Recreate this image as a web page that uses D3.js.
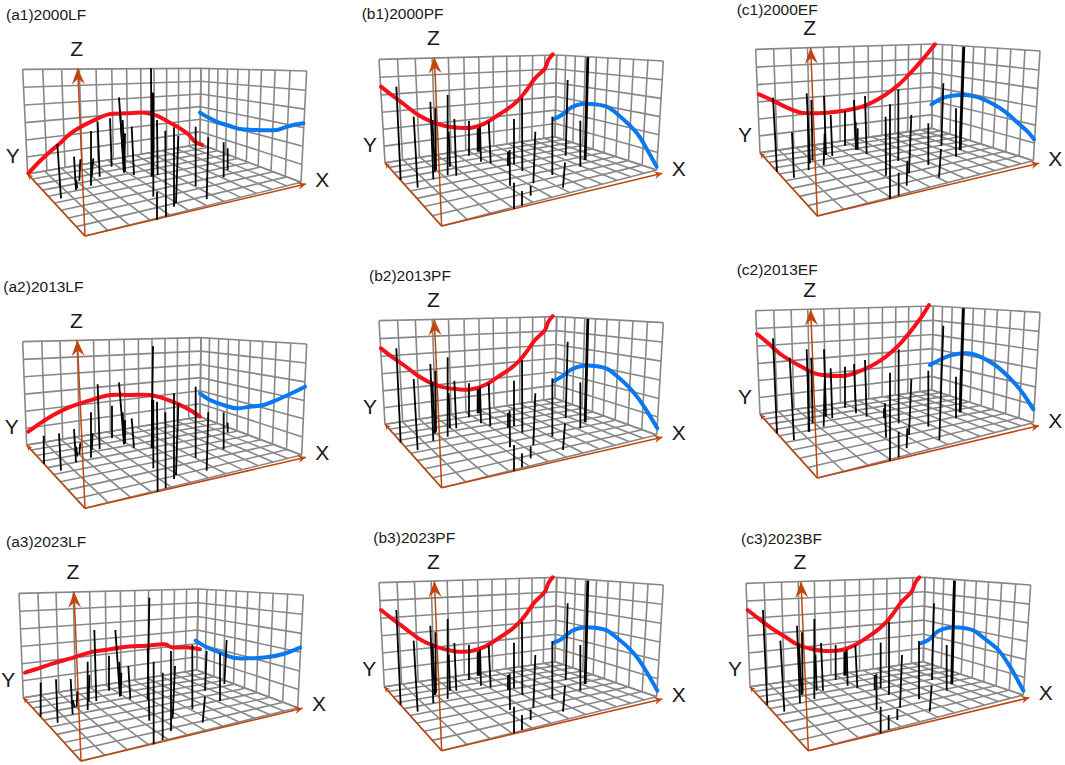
<!DOCTYPE html>
<html>
<head>
<meta charset="utf-8">
<script src="https://cdn.jsdelivr.net/npm/d3@7"></script>
<style>
  html, body { margin: 0; padding: 0; background: #fff; }
  svg { display: block; }
  text { font-family: "Liberation Sans", sans-serif; fill: #1a1a1a; }
</style>
</head>
<body>
<div id="chart"></div>
<script>
const titles = [
  "(a1)2000LF", "(b1)2000PF", "(c1)2000EF",
  "(a2)2013LF", "(b2)2013PF", "(c2)2013EF",
  "(a3)2023LF", "(b3)2023PF", "(c3)2023BF",
];

// stations: [x top, z top, x foot, z foot]
const sticksA1 = [[172,432,183,595],[222,470,228,570],[228,540,232,565],[241,478,238,543],[273,393,273,557],[280,475,275,530],[293,365,299,530],[330,355,335,500],[357,292,372,517],[360,330,372,517],[368,360,375,515],[375,400,373,517],[395,380,402,525],[453,205,455,530],[460,278,460,590],[457,278,457,530],[471,360,473,525],[471,575,471,660],[496,392,498,650],[522,382,522,620],[535,408,528,610],[587,380,587,558],[625,412,620,597],[671,427,671,532],[683,445,683,510]];
const sticksB1 = [[124,260,137,540],[176,350,188,563],[226,305,235,538],[232,360,240,515],[241,325,243,510],[278,285,278,525],[281,395,285,500],[298,357,304,527],[342,363,342,467],[368,385,368,455],[372,385,372,455],[375,377,378,485],[401,363,407,490],[459,455,459,498],[464,450,465,557],[477,357,477,493],[501,293,502,513],[541,395,535,550],[477,548,477,627],[501,573,501,617],[527,557,527,587],[592,350,592,525],[638,240,632,467],[630,487,624,563],[676,362,676,500],[697,172,689,480],[700,172,692,480]];
const sticksC1 = [[174,293,186,515],[231,397,237,533],[275,280,285,490],[279,365,281,510],[289,300,293,480],[327,288,333,465],[329,400,326,495],[347,345,352,468],[390,333,390,437],[417,300,423,450],[422,365,423,440],[428,385,428,450],[450,288,455,463],[512,350,513,527],[525,313,525,597],[550,268,550,483],[551,518,551,587],[589,345,582,520],[577,482,575,557],[640,370,640,495],[685,250,679,437],[678,447,672,533],[723,325,723,470],[748,140,737,450],[745,140,734,450]];
const sticksA2 = [[131,527,132,612],[177,520,183,632],[222,507,228,607],[228,560,232,590],[241,548,238,583],[273,457,273,593],[278,520,275,570],[293,373,299,568],[336,437,336,535],[357,367,372,553],[368,457,373,552],[375,480,375,550],[395,475,402,563],[459,258,455,565],[460,420,460,625],[456,420,456,565],[471,425,473,695],[496,457,497,685],[522,400,522,657],[535,430,528,645],[587,380,587,593],[625,457,620,632],[671,457,671,568],[683,488,683,517]];
const sticksB2 = [[124,265,137,548],[176,357,188,570],[226,312,235,543],[232,365,240,520],[241,332,243,515],[278,292,278,530],[281,400,285,505],[298,362,304,505],[342,370,342,472],[368,388,368,460],[372,388,372,460],[375,382,378,490],[401,370,406,498],[459,458,459,503],[464,452,465,562],[477,362,477,498],[501,300,502,518],[541,400,535,555],[477,555,477,633],[501,580,501,622],[527,560,527,595],[592,355,592,530],[638,245,632,475],[630,490,624,570],[676,367,676,505],[697,177,689,487],[700,177,692,487]];
const sticksC2 = [[174,235,186,520],[224,293,237,540],[275,268,283,515],[279,330,281,515],[289,293,293,490],[327,268,333,470],[329,360,326,500],[347,325,352,475],[390,320,390,443],[417,312,423,460],[450,300,455,470],[510,430,513,533],[507,445,507,475],[525,338,525,603],[551,268,551,490],[551,515,551,592],[589,358,582,525],[577,505,575,565],[640,332,640,500],[685,197,673,540],[723,350,723,475],[747,145,737,457],[744,145,734,457]];
const sticksA3 = [[122,503,122,605],[168,493,173,623],[212,492,218,598],[218,555,224,578],[232,530,230,575],[263,440,263,585],[268,480,266,560],[283,345,289,558],[327,422,327,527],[346,345,360,545],[358,440,362,543],[364,473,362,540],[385,453,391,553],[448,248,443,555],[443,400,448,617],[461,440,461,688],[488,473,488,675],[513,408,513,648],[525,453,518,610],[577,390,577,583],[620,408,615,527],[615,545,608,623],[660,415,660,558],[680,375,673,507]];
const sticksB3 = [[124,285,137,570],[176,377,188,590],[226,332,235,565],[232,385,240,540],[241,352,243,535],[278,312,278,552],[281,420,285,527],[298,384,304,527],[342,390,342,495],[368,410,368,482],[372,410,372,482],[375,403,378,512],[401,390,407,518],[459,480,459,525],[464,476,465,585],[477,383,477,520],[501,320,502,540],[541,420,535,578],[477,575,477,655],[501,600,501,645],[527,583,527,615],[592,378,592,553],[638,265,632,495],[630,512,624,590],[676,390,676,527],[697,197,689,507],[700,197,692,507]];
const sticksC3 = [[144,285,157,570],[196,377,208,590],[246,332,255,565],[251,385,260,540],[261,352,263,535],[298,312,298,552],[301,420,305,527],[318,384,324,527],[362,390,362,495],[388,410,388,482],[392,410,392,482],[395,403,398,512],[421,390,427,520],[479,480,479,525],[484,476,485,585],[497,383,497,520],[522,320,522,540],[561,420,555,578],[497,575,497,655],[521,600,521,645],[547,583,547,615],[612,378,612,553],[657,265,651,495],[650,512,644,590],[695,390,695,527],[717,197,709,507],[720,197,712,507]];

// trend curves on the two back walls
const redA1 = [[85,520],[120,483],[150,455],[180,430],[200,410],[235,385],[280,362],[325,343],[380,340],[435,338],[470,347],[510,368],[540,385],[565,403],[585,425],[607,435]];
const blueA1 = [[600,338],[620,350],[650,365],[690,378],[720,387],[770,390],[830,390],[855,382],[880,375],[910,370]];
const redB1 = [[78,260],[110,285],[150,315],[190,345],[230,365],[270,378],[310,383],[350,383],[390,370],[430,345],[470,318],[495,295],[515,270],[540,235],[570,205],[580,180],[593,163]];
const blueB1 = [[597,357],[620,345],[650,322],[680,312],[720,313],[760,322],[790,345],[820,372],[850,405],[880,455],[905,500]];
const redC1 = [[132,283],[170,300],[210,320],[255,337],[300,340],[350,337],[400,330],[450,317],[510,285],[550,255],[590,215],[630,170],[660,133]];
const blueC1 = [[650,313],[680,295],[710,287],[750,285],[790,292],[830,310],[870,335],[910,370],[940,397],[957,418]];
const redA2 = [[85,515],[120,490],[160,465],[200,445],[240,430],[280,418],[330,405],[390,405],[450,405],[490,415],[530,430],[570,450],[600,470]];
const blueA2 = [[600,400],[630,420],[670,435],[710,445],[750,440],[790,435],[830,420],[870,402],[915,380]];
const redB2 = [[78,265],[110,290],[150,318],[190,348],[230,370],[270,383],[310,388],[350,388],[390,375],[430,350],[470,323],[495,300],[515,275],[540,240],[570,210],[580,185],[593,168]];
const blueB2 = [[597,363],[620,350],[650,328],[680,318],[720,318],[755,326],[790,352],[820,380],[850,415],[880,460],[907,505]];
const redC2 = [[126,222],[160,250],[200,285],[250,315],[300,340],[340,347],[390,347],[430,335],[470,317],[510,292],[550,257],[590,210],[620,170],[642,135]];
const blueC2 = [[645,315],[680,297],[710,285],[760,280],[800,292],[840,315],[880,350],[920,395],[955,448]];
const redA3 = [[75,473],[110,462],[160,445],[220,428],[270,412],[330,403],[380,395],[440,392],[495,388],[515,397],[560,397],[600,403]];
const blueA3 = [[587,377],[620,397],[660,413],[700,428],[750,430],[800,427],[850,417],[900,398]];
const redB3 = [[78,285],[110,310],[150,340],[190,370],[230,390],[270,403],[310,410],[350,408],[390,395],[430,370],[470,343],[495,320],[515,295],[540,260],[570,230],[580,205],[593,187]];
const blueB3 = [[597,383],[620,372],[650,348],[680,338],[720,338],[755,346],[790,372],[820,398],[850,432],[880,480],[907,527]];
const redC3 = [[98,285],[130,310],[170,340],[210,365],[250,390],[290,402],[330,408],[380,405],[420,390],[460,365],[490,343],[515,320],[535,295],[560,260],[590,230],[600,205],[613,187]];
const blueC3 = [[617,385],[640,375],[670,348],[700,338],[740,338],[775,346],[810,372],[850,405],[885,455],[925,527]];

const allSticks = [sticksA1, sticksB1, sticksC1, sticksA2, sticksB2, sticksC2, sticksA3, sticksB3, sticksC3];
const allRed = [redA1, redB1, redC1, redA2, redB2, redC2, redA3, redB3, redC3];
const allBlue = [blueA1, blueB1, blueC1, blueA2, blueB2, blueC2, blueA3, blueB3, blueC3];

// layout: where each panel sits on the page, the corners of its box, the title anchor
const panelOrigins = [[0,0],[355,0],[715,0],[0,260],[355,260],[715,260],[0,515],[355,515],[715,515]];
const boxes = [
  { tl:[68,208],  tb:[603,205], tr:[920,213], l:[83,522],  bb:[600,432], br:[903,547], f:[255,708], xTip:[918,552], zTip:[233,205] },
  { tl:[72,178],  tb:[605,165], tr:[925,183], l:[90,488],  bb:[600,410], br:[905,510], f:[260,678], xTip:[922,520], zTip:[238,172] },
  { tl:[122,148], tb:[655,132], tr:[975,153], l:[135,458], bb:[650,385], br:[955,482], f:[307,648], xTip:[972,490], zTip:[287,143] },
  { tl:[68,245],  tb:[603,233], tr:[920,252], l:[80,555],  bb:[600,470], br:[905,585], f:[255,745], xTip:[918,592], zTip:[232,240] },
  { tl:[72,182],  tb:[605,170], tr:[925,188], l:[90,493],  bb:[600,415], br:[905,525], f:[260,683], xTip:[922,532], zTip:[238,178] },
  { tl:[122,152], tb:[655,138], tr:[975,157], l:[135,463], bb:[650,390], br:[955,488], f:[307,654], xTip:[972,497], zTip:[287,148] },
  { tl:[57,235],  tb:[595,222], tr:[910,240], l:[70,548],  bb:[590,465], br:[893,578], f:[243,738], xTip:[908,580], zTip:[222,230] },
  { tl:[72,203],  tb:[605,187], tr:[925,210], l:[88,515],  bb:[600,440], br:[905,545], f:[260,707], xTip:[922,552], zTip:[238,198] },
  { tl:[93,205],  tb:[630,187], tr:[947,210], l:[105,515], bb:[625,440], br:[925,540], f:[280,707], xTip:[943,548], zTip:[258,200] },
];
const titleAnchors = [[18,60],[20,58],[65,46],[10,97],[42,63],[65,46],[18,95],[55,83],[78,88]];

const AXIS_COLOR = "#c2440f";
const GRID_COLOR = "#888888";

// cells counted on the picture
const X_CELLS = 12;
const Y_CELLS = 9;
const Z_CELLS = 6;

// unit square -> four corners, keeps the perspective of the original grid
function quadMap(p0, p1, p2, p3) {
  const sx = p0[0] - p1[0] + p2[0] - p3[0];
  const sy = p0[1] - p1[1] + p2[1] - p3[1];
  const dx1 = p1[0] - p2[0], dx2 = p3[0] - p2[0];
  const dy1 = p1[1] - p2[1], dy2 = p3[1] - p2[1];
  const den = dx1 * dy2 - dx2 * dy1;
  const g = (sx * dy2 - dx2 * sy) / den;
  const h = (dx1 * sy - sx * dy1) / den;
  const a = p1[0] - p0[0] + g * p1[0], b = p3[0] - p0[0] + h * p3[0];
  const d = p1[1] - p0[1] + g * p1[1], e = p3[1] - p0[1] + h * p3[1];
  return (u, v) => {
    const w = g * u + h * v + 1;
    return [(a * u + b * v + p0[0]) / w, (d * u + e * v + p0[1]) / w];
  };
}

const svg = d3.select("#chart").append("svg").attr("width", 1065).attr("height", 765);

titles.forEach((title, i) => {
  const [ox, oy] = panelOrigins[i];
  const box = boxes[i];

  const px = d3.scaleLinear().domain([0, 1050]).range([ox, ox + 350]);
  const py = d3.scaleLinear().domain([0, 750]).range([oy, oy + 250]);
  const line = d3.line().x((d) => px(d[0])).y((d) => py(d[1]));
  const curve = d3.line().x((d) => px(d[0])).y((d) => py(d[1])).curve(d3.curveCatmullRom);

  const g = svg.append("g");

  // 1. grid on floor and walls
  const drawGrid = (map, nu, nv) => {
    const segs = [];
    d3.range(nu + 1).forEach((k) => segs.push([map(k / nu, 0), map(k / nu, 1)]));
    d3.range(nv + 1).forEach((k) => segs.push([map(0, k / nv), map(1, k / nv)]));
    g.append("g")
      .selectAll("path")
      .data(segs)
      .join("path")
      .attr("d", line)
      .attr("fill", "none")
      .attr("stroke", GRID_COLOR)
      .attr("stroke-width", 1.6);
  };
  drawGrid(quadMap(box.f, box.br, box.bb, box.l), X_CELLS, Y_CELLS);
  drawGrid(quadMap(box.l, box.bb, box.tb, box.tl), X_CELLS, Z_CELLS);
  drawGrid(quadMap(box.bb, box.br, box.tr, box.tb), Y_CELLS, Z_CELLS);

  // 2. axes + arrow heads
  const arrow = (tip, len, half) => {
    const dx = px(tip[0]) - px(box.f[0]);
    const dy = py(tip[1]) - py(box.f[1]);
    const n = Math.hypot(dx, dy);
    const ux = dx / n, uy = dy / n;
    const tx = px(tip[0]), ty = py(tip[1]);
    const pts = [
      [tx, ty],
      [tx - ux * len - uy * half, ty - uy * len + ux * half],
      [tx - ux * len * 0.65, ty - uy * len * 0.65],
      [tx - ux * len + uy * half, ty - uy * len - ux * half],
    ];
    g.append("path")
      .attr("d", "M" + pts.join("L") + "Z")
      .attr("fill", AXIS_COLOR);
  };
  [box.xTip, box.l, box.zTip].forEach((tip) => {
    g.append("path")
      .attr("d", line([box.f, tip]))
      .attr("fill", "none")
      .attr("stroke", AXIS_COLOR)
      .attr("stroke-width", 1.5);
  });
  arrow(box.zTip, 16, 6.5);
  arrow(box.xTip, 8, 4);
  arrow(box.l, 6, 3);

  // 3. trend curves
  [[allRed[i], "#f5101a"], [allBlue[i], "#0a78ee"]].forEach(([pts, col]) => {
    g.append("path")
      .attr("d", curve(pts))
      .attr("fill", "none")
      .attr("stroke", col)
      .attr("stroke-width", 4)
      .attr("stroke-linecap", "round");
  });

  // 4. data sticks on top
  g.append("g")
    .selectAll("line")
    .data(allSticks[i])
    .join("line")
    .attr("x1", (d) => px(d[0]))
    .attr("y1", (d) => py(d[1]))
    .attr("x2", (d) => px(d[2]))
    .attr("y2", (d) => py(d[3]))
    .attr("stroke", "#000")
    .attr("stroke-width", 1.8);

  // 5. texts
  g.append("text")
    .attr("x", px(titleAnchors[i][0]))
    .attr("y", py(titleAnchors[i][1]))
    .attr("font-size", "15.5px")
    .text(title);

  const axisLabel = (txt, x, y) =>
    g.append("text")
      .attr("x", px(x))
      .attr("y", py(y))
      .attr("text-anchor", "middle")
      .attr("font-size", "21px")
      .text(txt);
  axisLabel("Z", box.zTip[0] - 3, box.zTip[1] - 37);
  axisLabel("Y", box.l[0] - 45, box.l[1] - 32);
  axisLabel("X", box.xTip[0] + 49, box.xTip[1] + 8);
});
</script>
</body>
</html>
